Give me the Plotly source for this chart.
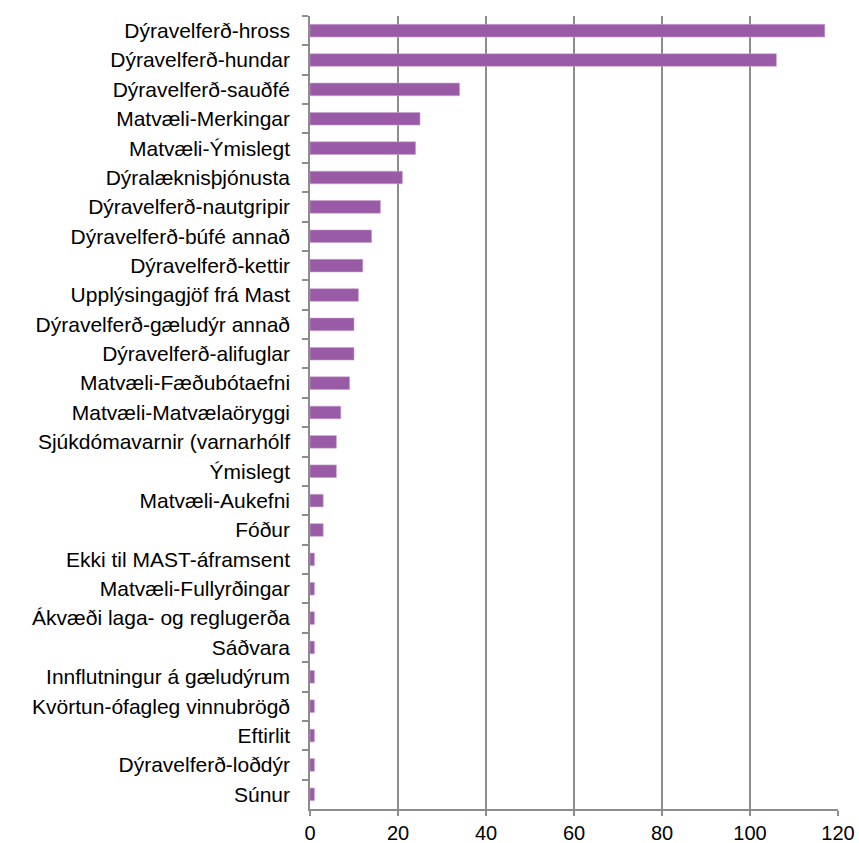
import plotly.graph_objects as go

categories = [
    'Dýravelferð-hross', 'Dýravelferð-hundar', 'Dýravelferð-sauðfé', 'Matvæli-Merkingar',
    'Matvæli-Ýmislegt', 'Dýralæknisþjónusta', 'Dýravelferð-nautgripir', 'Dýravelferð-búfé annað',
    'Dýravelferð-kettir', 'Upplýsingagjöf frá Mast', 'Dýravelferð-gæludýr annað', 'Dýravelferð-alifuglar',
    'Matvæli-Fæðubótaefni', 'Matvæli-Matvælaöryggi', 'Sjúkdómavarnir (varnarhólf', 'Ýmislegt',
    'Matvæli-Aukefni', 'Fóður', 'Ekki til MAST-áframsent', 'Matvæli-Fullyrðingar',
    'Ákvæði laga- og reglugerða', 'Sáðvara', 'Innflutningur á gæludýrum', 'Kvörtun-ófagleg vinnubrögð',
    'Eftirlit', 'Dýravelferð-loðdýr', 'Súnur',
]
counts = [117, 106, 34, 25, 24, 21, 16, 14, 12, 11, 10, 10, 9, 7, 6, 6, 3, 3, 1, 1, 1, 1, 1, 1, 1, 1, 1]

x_ticks = [0, 20, 40, 60, 80, 100, 120]

fig = go.Figure(go.Bar(
    x=counts, y=categories, orientation='h',
    marker=dict(color='#995BA5', line=dict(color='#C9A3CF', width=0.6)),
    width=0.43,
))

fig.update_layout(
    width=859, height=843,
    margin=dict(l=310, r=21, t=16, b=34),
    plot_bgcolor='white', paper_bgcolor='white',
    font=dict(family='Liberation Sans, Arial, sans-serif', size=20, color='black'),
    showlegend=False,
)
fig.update_xaxes(
    range=[0, 120], tickvals=x_ticks, showgrid=True, gridcolor='#8C8C8C', gridwidth=1.5,
    showline=True, linecolor='#8C8C8C', linewidth=1.5, ticks='outside', ticklen=5,
    tickcolor='#8C8C8C', tickwidth=1.5, zeroline=False, tickfont=dict(size=20),
    ticklabelstandoff=0, automargin=False,
)
fig.update_yaxes(
    autorange='reversed', showline=True, linecolor='#8C8C8C', linewidth=1.5,
    ticks='outside', tickson='boundaries', ticklen=6, tickcolor='#8C8C8C', tickwidth=1.5,
    showgrid=False, ticklabelstandoff=14, tickfont=dict(size=21), automargin=False,
)

# drop the default body margin so the figure fills the window exactly
fig.write_html('out.html', config={'displayModeBar': False},
               post_script="document.body.style.margin='0';document.body.style.overflow='hidden';")
